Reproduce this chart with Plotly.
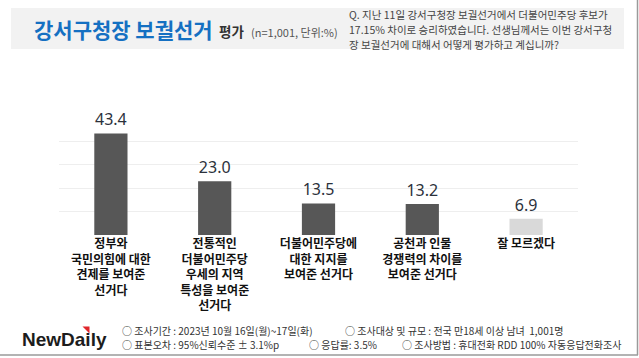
import plotly.graph_objects as go

categories = [
    "정부와<br>국민의힘에 대한<br>견제를 보여준<br>선거다",
    "전통적인<br>더불어민주당<br>우세의 지역<br>특성을 보여준<br>선거다",
    "더불어민주당에<br>대한 지지를<br>보여준 선거다",
    "공천과 인물<br>경쟁력의 차이를<br>보여준 선거다",
    "잘 모르겠다",
]
values = [43.4, 23.0, 13.5, 13.2, 6.9]
bar_colors = ["#575757", "#575757", "#575757", "#575757", "#d9d9d9"]

title_main = "강서구청장 보궐선거"
title_sub = "평가"
title_note = "(n=1,001, 단위:%)"
question_lines = [
    "Q. 지난 11일 강서구청장 보궐선거에서 더불어민주당 후보가",
    "17.15% 차이로 승리하였습니다. 선생님께서는 이번 강서구청",
    "장 보궐선거에 대해서 어떻게 평가하고 계십니까?",
]
footer_items = [
    ("○ 조사기간 : 2023년 10월 16일(월)~17일(화)", 120, 330),
    ("○ 조사대상 및 규모 : 전국 만18세 이상 남녀  1,001명", 343, 330),
    ("○ 표본오차 : 95%신뢰수준 ± 3.1%p", 120, 344),
    ("○ 응답률: 3.5%", 307, 344),
    ("○ 조사방법 : 휴대전화 RDD 100% 자동응답전화조사", 400, 344),
]

W, H = 639, 358
L, R, T, B = 59, 61, 118, 123
PW, PH = W - L - R, H - T - B


def px(x):
    return (x - L) / PW


def py(y):
    return (H - B - y) / PH


FONT = "Noto Sans CJK KR"

fig = go.Figure(
    go.Bar(
        x=categories,
        y=values,
        marker=dict(color=bar_colors, line=dict(width=0)),
        texttemplate="%{y:.1f}",
        textposition="outside",
        textfont=dict(family="Noto Sans", size=16, color="#2b313b"),
        cliponaxis=False,
    )
)

shapes = [
    dict(type="rect", xref="paper", yref="paper", x0=px(11), x1=px(624), y0=py(49), y1=py(8),
         fillcolor="#f2f2f2", line=dict(width=0), layer="below"),
    dict(type="line", xref="paper", yref="paper", x0=px(637.5), x1=px(637.5), y0=py(355), y1=py(0),
         line=dict(color="#9a9a9a", width=1.5)),
    dict(type="line", xref="paper", yref="paper", x0=px(0), x1=px(638), y0=py(355), y1=py(355),
         line=dict(color="#9a9a9a", width=1.5)),
    dict(type="path", xref="paper", yref="paper",
         path=f"M {px(82.5)},{py(326.5)} L {px(89.5)},{py(326.5)} L {px(89.5)},{py(333.5)} Z",
         fillcolor="#e0262b", line=dict(width=0), layer="above"),
]

annotations = [
    dict(text=f"<b>{title_main}</b>", x=px(32), y=py(29), xref="paper", yref="paper",
         xanchor="left", yanchor="middle", showarrow=False,
         font=dict(family=FONT, size=21, color="#1570c2")),
    dict(text=f"<b>{title_sub}</b>", x=px(217), y=py(31), xref="paper", yref="paper",
         xanchor="left", yanchor="middle", showarrow=False,
         font=dict(family=FONT, size=13.5, color="#333333")),
    dict(text=title_note, x=px(249), y=py(32), xref="paper", yref="paper",
         xanchor="left", yanchor="middle", showarrow=False,
         font=dict(family=FONT, size=11, color="#555555")),
    dict(text="<b>NewDaily</b>", x=px(20), y=py(339), xref="paper", yref="paper",
         xanchor="left", yanchor="middle", showarrow=False,
         font=dict(family="Liberation Sans", size=19, color="#1c1c1c")),
]
for i, line in enumerate(question_lines):
    annotations.append(dict(text=line, x=px(347), y=py(14 + 15 * i), xref="paper", yref="paper",
                            xanchor="left", yanchor="middle", showarrow=False,
                            font=dict(family=FONT, size=10.5, color="#444444")))
for text, x, y in footer_items:
    annotations.append(dict(text=text, x=px(x), y=py(y), xref="paper", yref="paper",
                            xanchor="left", yanchor="middle", showarrow=False,
                            font=dict(family=FONT, size=10, color="#333333")))

fig.update_layout(
    width=W, height=H,
    margin=dict(l=L, r=R, t=T, b=B, pad=0),
    paper_bgcolor="white", plot_bgcolor="white",
    font=dict(family=FONT),
    bargap=0.68,
    showlegend=False,
    shapes=shapes,
    annotations=annotations,
    xaxis=dict(showline=False, ticks="", tickfont=dict(family=FONT, size=12, color="#111111", weight="bold"),
               tickangle=0, fixedrange=True),
    yaxis=dict(range=[0, 50], dtick=10, showticklabels=False, showgrid=True, gridcolor="#eeeeee",
               gridwidth=1, zeroline=False, fixedrange=True),
)

fig.write_html("out.html", config={"displayModeBar": False},
               post_script="document.body.style.margin='0';")
